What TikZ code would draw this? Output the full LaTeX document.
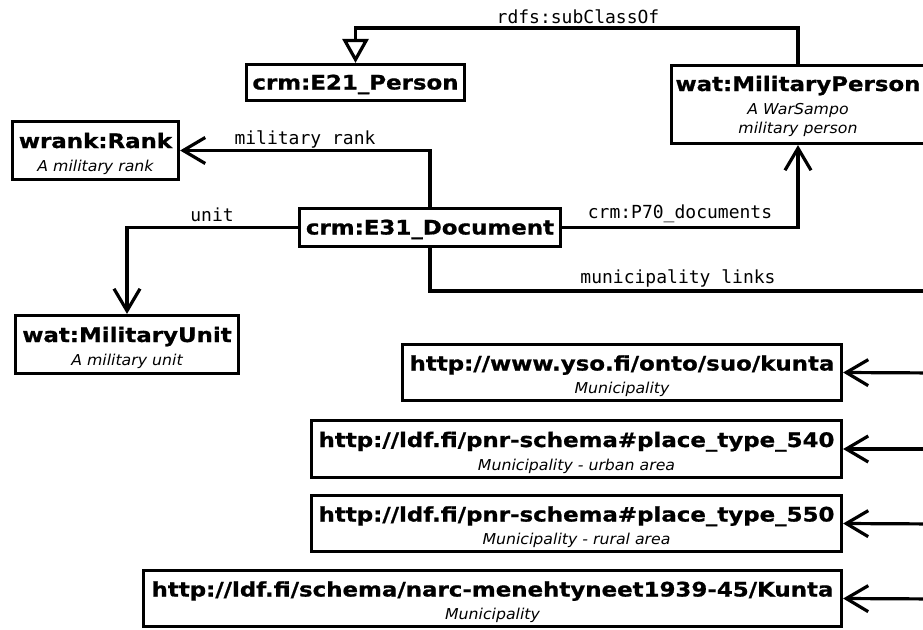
\documentclass[tikz,border=0pt]{standalone}
\usepackage{fontspec}
\usepackage{graphicx}
\setmainfont{DejaVu Sans}
\setmonofont{DejaVu Sans Mono}
\newfontfamily\heavyfont{DejaVu Sans Bold}[FakeBold=0.8]
\usetikzlibrary{arrows.meta}
\newcommand\ttl[1]{{\upshape\heavyfont\fontsize{20}{24}\selectfont\scalebox{1.145}[1]{#1}}}
\newcommand\dsc[1]{\scalebox{1.05}[1]{#1}}
\newcommand\descf{\itshape\fontsize{15}{20}\selectfont}
\newcommand\lblf{\ttfamily\fontsize{18}{20}\selectfont}
\newcommand\tp[1]{\rule{0pt}{#1pt}}
\newcommand\bt[1]{\rule[-#1pt]{0pt}{0pt}}
\tikzset{
  cls/.style={draw, line width=3.2pt, inner sep=0pt, align=center, font=\descf},
  lbl/.style={inner sep=0pt, font=\lblf},
  arr/.style={line width=3.2pt, line join=miter, -{Straight Barb[length=22pt,width=26pt]}},
  subcls/.style={line width=3.2pt, line join=miter, -{Triangle[open,length=24pt,width=26pt,fill=white]}},
  plain/.style={line width=3.2pt, line join=miter}
}
\begin{document}
\begin{tikzpicture}[x=1pt,y=-1pt]
\useasboundingbox (0,0) rectangle (923,629);
\clip (0,0) rectangle (923,629);
\fill[white] (0,0) rectangle (923,629);

\node[cls, minimum width=218pt, minimum height=36pt] (E21) at (355.5,82.5) {\tp{25}\ttl{crm:E21\_Person}\bt{11}};
\node[cls, minimum width=253pt, minimum height=78pt] (MP) at (798,104.5) {\tp{25.5}\ttl{wat:MilitaryPerson}\\[3pt]\dsc{A WarSampo}\\[-1pt]\dsc{military person}\bt{10.5}};
\node[cls, minimum width=166pt, minimum height=58pt] (rank) at (95.5,150.5) {\tp{26.5}\ttl{wrank:Rank}\\[3pt]\dsc{A military rank}\bt{8.5}};
\node[cls, minimum width=261pt, minimum height=38pt] (E31) at (430,227.5) {\tp{26}\ttl{crm:E31\_Document}\bt{12}};
\node[cls, minimum width=223pt, minimum height=58pt] (unit) at (127,344.5) {\tp{26.5}\ttl{wat:MilitaryUnit}\\[3pt]\dsc{A military unit}\bt{8.5}};
\node[cls, minimum width=439pt, minimum height=56pt] (yso) at (622,372.5) {\tp{26}\ttl{http://www.yso.fi/onto/suo/kunta}\\[3pt]\dsc{Municipality}\bt{7}};
\node[cls, minimum width=530pt, minimum height=57pt] (p540) at (576.5,449) {\tp{26.5}\ttl{http://ldf.fi/pnr-schema\#place\_type\_540}\\[3pt]\dsc{Municipality - urban area}\bt{7.5}};
\node[cls, minimum width=530pt, minimum height=56pt] (p550) at (576.5,523.5) {\tp{26}\ttl{http://ldf.fi/pnr-schema\#place\_type\_550}\\[3pt]\dsc{Municipality - rural area}\bt{7}};
\node[cls, minimum width=698pt, minimum height=56pt] (narc) at (492.5,598.5) {\tp{26}\ttl{http://ldf.fi/schema/narc-menehtyneet1939-45/Kunta}\\[3pt]\dsc{Municipality}\bt{7}};

\coordinate (muniR) at (940,291);
\coordinate (ysoR) at (940,373);
\coordinate (p540R) at (940,449);
\coordinate (p550R) at (940,524);
\coordinate (narcR) at (940,599);

\draw[subcls] (MP.north) -- ++(0,-36) -| (E21.north);
\draw[arr] (E31.north) |- (rank.east);
\draw[arr] (E31.west) -| (unit.north);
\draw[arr] (E31.east) -| (MP.south);
\draw[plain] (E31.south) |- (muniR);
\draw[arr] (ysoR) -- (yso.east);
\draw[arr] (p540R) -- (p540.east);
\draw[arr] (p550R) -- (p550.east);
\draw[arr] (narcR) -- (narc.east);

\node[lbl] (lsub) at (578,17) {rdfs:subClassOf};
\node[lbl] (lrank) at (305,139) {military rank};
\node[lbl] (lunit) at (212,215) {unit};
\node[lbl] (lp70) at (680,214) {crm:P70\_documents};
\node[lbl] (lmuni) at (678,278) {municipality links};
\end{tikzpicture}
\end{document}
